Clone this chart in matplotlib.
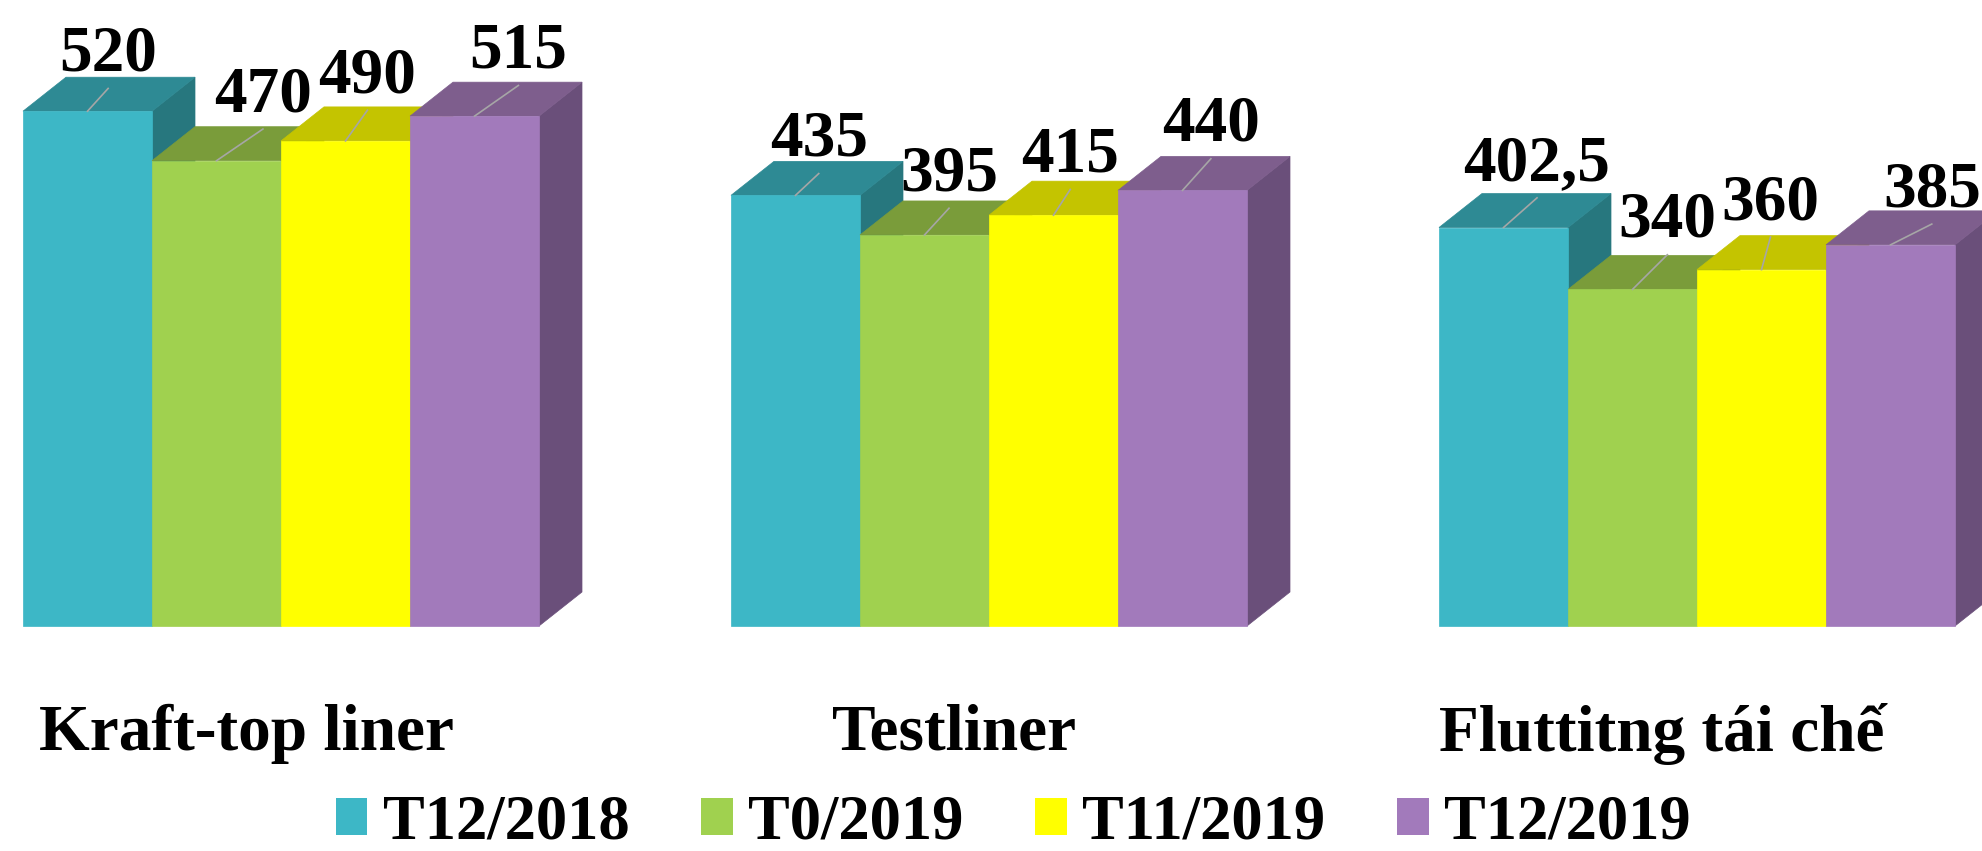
import matplotlib.pyplot as plt
from matplotlib.patches import Polygon, Patch

categories = ["Kraft-top liner", "Testliner", "Fluttitng tái chế"]
series = ["T12/2018", "T0/2019", "T11/2019", "T12/2019"]
values = [
    [520, 470, 490, 515],
    [435, 395, 415, 440],
    [402.5, 340, 360, 385],
]

# front / top / side colours per series
front = ["#3DB7C6", "#A0D14F", "#FFFF00", "#A27ABB"]
top = ["#2E8A94", "#7A9C3A", "#C4C400", "#7E5E8D"]
side = ["#27777E", "#688532", "#A8A800", "#6A4F7A"]

# label nudges (x in bar widths, y in value units), hand placed like the original
label_dx = [0.16, 0.36, 0.17, 0.34, 0.18, 0.19, 0.13, 0.22, 0.26, 0.27, 0.07, 0.32]
label_dy = [41, 50, 49, 49, 40, 45, 44, 50, 48, 53, 51, 39]

W, H = 1983, 851
fig = plt.figure(figsize=(W / 100, H / 100), dpi=100)
ax = fig.add_axes([0, 0, 1, 1])
ax.axis("off")

ppu = 0.99          # pixels per value unit
base = 626          # y pixel (from top) of the zero line
bw = 129            # bar width in pixels
ax.set_xlim(-87.5 / bw, (W - 87.5) / bw)
ax.set_ylim(-(H - base) / ppu, base / ppu)

stride = 708 / bw
dx = 43 / bw
dy = 34 / ppu
font = "Liberation Serif"

k = 0
for g, cat in enumerate(categories):
    for i, s in enumerate(series):
        v = values[g][i]
        xc = g * stride + i
        x0, x1 = xc - 0.5, xc + 0.5
        z = 2 + k * 3
        ax.add_patch(Polygon([(x1, 0), (x1 + dx, dy), (x1 + dx, v + dy), (x1, v)],
                             closed=True, fc=side[i], ec=side[i], lw=0.5, zorder=z))
        ax.add_patch(Polygon([(x0, v), (x0 + dx, v + dy), (x1 + dx, v + dy), (x1, v)],
                             closed=True, fc=top[i], ec=top[i], lw=0.5, zorder=z + 1))
        ax.bar(xc, v, width=1.0, color=front[i], edgecolor=front[i], lw=0.5, zorder=z + 2)

        # data label with leader line
        lx = xc + label_dx[k]
        ly = v + label_dy[k]
        txt = f"{v:g}".replace(".", ",")
        ax.plot([xc, lx], [v, ly - 18], color="#A6A6A6", lw=1.2, zorder=100)
        ax.text(lx, ly, txt, ha="center", va="baseline", fontsize=47,
                fontweight="bold", family=font, zorder=101)
        k += 1

    ax.text(g * stride + 1.5 - 0.27, -109, cat, ha="center", va="center",
            fontsize=47, fontweight="bold", family=font)

handles = [Patch(facecolor=c, edgecolor="none") for c in front]
fig.legend(handles, series, loc="center", bbox_to_anchor=(0.511, 0.032), ncol=4,
           frameon=False, prop={"family": font, "weight": "bold", "size": 45},
           handlelength=0.5, handleheight=0.55, handletextpad=0.25,
           columnspacing=1.15, borderpad=0)

fig.savefig("out.png", dpi=100)
